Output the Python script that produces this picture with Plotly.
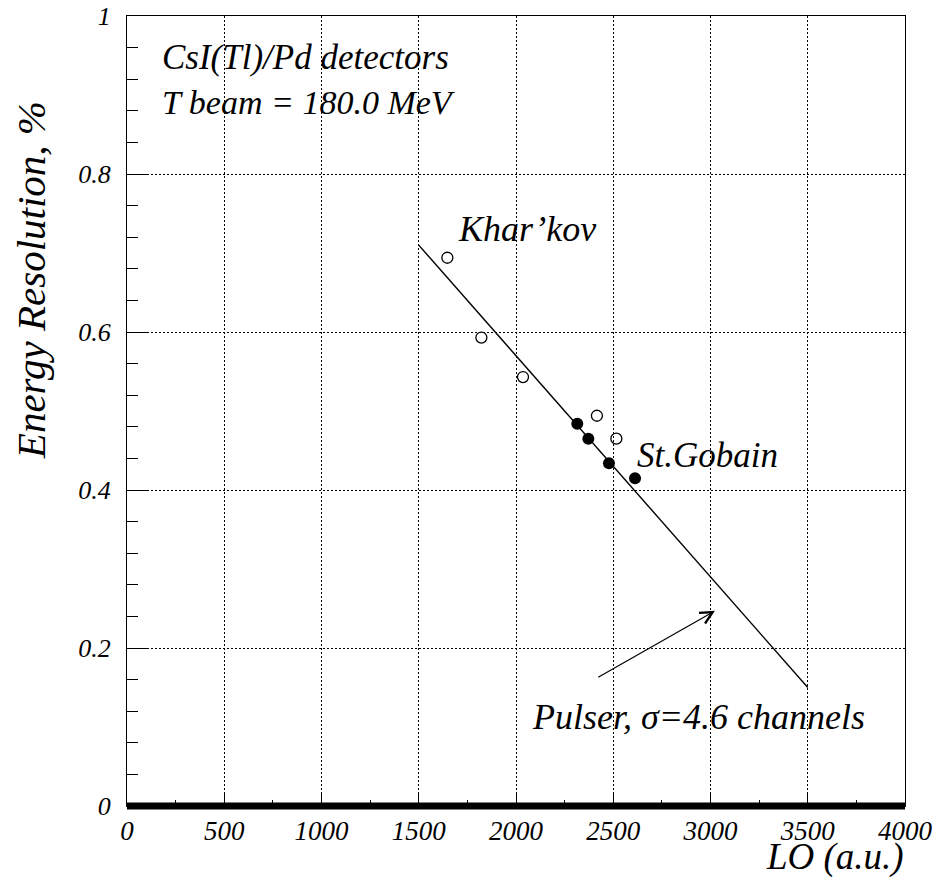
import plotly.graph_objects as go

# --- data ---
khar_x = [1647, 1822, 2036, 2416, 2516]
khar_y = [0.694, 0.593, 0.543, 0.494, 0.465]
gob_x = [2315, 2372, 2478, 2612]
gob_y = [0.484, 0.465, 0.434, 0.415]
fit_x = [1500, 3500]
fit_y = [0.71, 0.15]

x_tickvals = [0, 500, 1000, 1500, 2000, 2500, 3000, 3500, 4000]
x_ticktext = ["0", "500", "1000", "1500", "2000", "2500", "3000", "3500", "4000"]
y_tickvals = [0, 0.2, 0.4, 0.6, 0.8, 1.0]
y_ticktext = ["0", "0.2", "0.4", "0.6", "0.8", "1"]

SERIF = "Liberation Serif"

fig = go.Figure()
fig.add_trace(go.Scatter(x=fit_x, y=fit_y, mode="lines",
                         line=dict(color="black", width=1.4), showlegend=False))
fig.add_trace(go.Scatter(x=khar_x, y=khar_y, mode="markers",
                         marker=dict(symbol="circle-open", size=11, color="black",
                                     line=dict(width=1.3)), showlegend=False))
fig.add_trace(go.Scatter(x=gob_x, y=gob_y, mode="markers",
                         marker=dict(symbol="circle", size=12, color="black"),
                         showlegend=False))

def txt(x, y, s, size, xref="x", yref="y", xanchor="left", angle=0):
    fig.add_annotation(x=x, y=y, xref=xref, yref=yref, text=s, showarrow=False,
                       xanchor=xanchor, yanchor="middle", textangle=angle,
                       font=dict(family=SERIF, size=size, color="black", style="italic"))

txt(170, 0.948, "CsI(Tl)/Pd detectors", 35)
txt(170, 0.891, "T beam = 180.0 MeV", 34)
txt(1690, 0.73, "Khar’kov", 36)
txt(2610, 0.444, "St.Gobain", 35)
txt(2070, 0.113, "Pulser, σ=4.6 channels", 36)

# arrow
fig.add_annotation(x=3023, y=0.247, ax=2415, ay=0.162, xref="x", yref="y",
                   axref="x", ayref="y", text="", showarrow=True,
                   arrowhead=5, arrowsize=2.0, arrowwidth=1.2, arrowcolor="black")

# axis titles
txt(-0.123, 0.666, "Energy Resolution, %", 41, xref="paper", yref="paper",
    xanchor="center", angle=-90)
txt(0.91, -0.0646, "LO (a.u.)", 37, xref="paper", yref="paper", xanchor="center")

# thick baseline at y=0
fig.add_shape(type="line", xref="paper", yref="paper", x0=0, x1=1, y0=0, y1=0,
              line=dict(color="black", width=7))

fig.update_xaxes(range=[0, 4000], tickvals=x_tickvals, ticktext=x_ticktext,
                 showline=True, linecolor="black", linewidth=1.2, mirror=True,
                 ticks="inside", ticklen=13, tickcolor="black", tickwidth=1,
                 minor=dict(dtick=250, tick0=0, ticks="inside", ticklen=6,
                            tickcolor="black", showgrid=False),
                 showgrid=True, gridcolor="black", griddash="2px,2px", gridwidth=1,
                 zeroline=False, ticklabeloverflow="allow", ticklabelstandoff=0,
                 automargin=False,
                 tickfont=dict(family=SERIF, size=27, color="black", style="italic"))
fig.update_yaxes(range=[0, 1], tickvals=y_tickvals, ticktext=y_ticktext,
                 showline=True, linecolor="black", linewidth=1.2, mirror=True,
                 ticks="inside", ticklen=20, tickcolor="black", tickwidth=1,
                 minor=dict(dtick=0.04, tick0=0, ticks="inside", ticklen=11,
                            tickcolor="black", showgrid=False),
                 showgrid=True, gridcolor="black", griddash="2px,2px", gridwidth=1,
                 zeroline=False, ticklabelstandoff=10, automargin=False,
                 tickfont=dict(family=SERIF, size=26, color="black", style="italic"))

fig.update_layout(width=932, height=882,
                  margin=dict(l=127, r=27, t=16, b=76),
                  font=dict(family=SERIF, color="black"),
                  plot_bgcolor="white", paper_bgcolor="white",
                  showlegend=False)

fig.write_html("out.html")
